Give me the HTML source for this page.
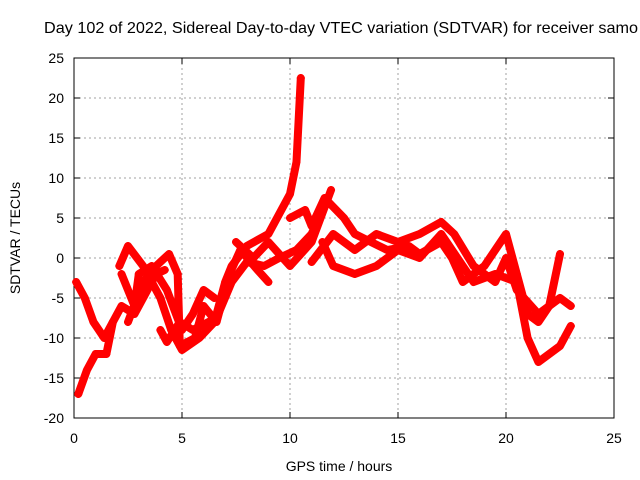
<!DOCTYPE html>
<html><head><meta charset="utf-8"><style>
body{margin:0;background:#fff}
svg{display:block;font-family:"Liberation Sans",sans-serif}
</style></head><body>
<svg id="chart" width="640" height="480">
<text x="44" y="33" font-size="16" textLength="594" lengthAdjust="spacingAndGlyphs" fill="#000">Day 102 of 2022, Sidereal Day-to-day VTEC variation (SDTVAR) for receiver samo</text>
<g id="grid"></g><g id="axes"></g><g id="series"></g>
<text x="339" y="471" font-size="14" text-anchor="middle">GPS time / hours</text>
<text x="0" y="0" font-size="14" text-anchor="middle" transform="translate(20,238) rotate(-90)">SDTVAR / TECUs</text>
</svg>
<script>
const xTicks=[0,5,10,15,20,25];
const yTicks=[-20,-15,-10,-5,0,5,10,15,20,25];
const trA=[[0.2,-17],[0.6,-14],[1,-12],[1.5,-12],[1.8,-8],[2.2,-6],[2.8,-7],[3.2,-5],[3.8,-2],[4.2,-1.5]];
const trB=[[0.1,-3],[0.5,-5],[0.9,-8],[1.4,-10],[1.8,-8]];
const trC=[[2.1,-1],[2.5,1.5],[3.2,-1],[4,-5],[4.5,-9],[5,-11.5],[5.8,-10],[6.5,-8],[7,-3],[7.3,-1],[8,1.5],[9,3],[10,8],[10.3,12],[10.5,22.5]];
const trD=[[2.2,-2],[2.8,-6],[3,-2],[3.6,-1],[4.3,-4],[5,-9],[5.5,-7],[6,-4],[6.5,-5]];
const trE=[[2.5,-8],[3.2,-3],[3.8,-1],[4.4,0.5],[4.8,-2],[4.9,-11],[5.6,-10],[6,-6],[6.6,-8],[7.2,-2],[7.7,1],[8.5,-1.5],[9,-3]];
const trF=[[4,-9],[4.3,-10.5],[4.9,-8],[5.5,-9],[6.6,-7.5],[7.3,-3],[8,-0.5],[8.8,-1],[9.5,0],[10.3,1],[11,3],[11.5,6]];
const trG=[[7.5,2],[8.3,0],[9,2],[10,-1],[11,2],[11.9,8.5]];
const trH=[[10,5],[10.7,6],[11,4],[11.6,7.5],[12.5,5],[13,3],[14.5,1],[15.5,1.5],[16,0.5],[17,2],[17.5,0],[18,-3],[19,-1],[20,3],[20.5,-2],[21,-7],[21.5,-8],[22,-6],[22.5,0.5]];
const trI=[[11.5,2],[12,-1],[13,-2],[14,-1],[15,1],[16,0],[17,3],[17.5,1],[18.5,-3],[19.5,-2],[20.5,-3],[21,-10],[21.5,-13],[22.5,-11],[23,-8.5]];
const trJ=[[11,-0.5],[12,3],[13,1],[14,3],[15,2],[16,3],[17,4.5],[17.6,3],[18.5,-1],[19.5,-3],[20,0],[20.5,-4],[21.5,-7],[22.5,-5],[23,-6]];
const series=[trA,trB,trC,trD,trE,trF,trG,trH,trI,trJ];
const L=74,R=614,T=58,B=418;
const sx=t=>L+(t-0)/25*(R-L);
const sy=v=>B-(v+20)/45*(B-T);
const NS="http://www.w3.org/2000/svg";
function mk(tag,parent,attrs){const e=document.createElementNS(NS,tag);for(const k in attrs)e.setAttribute(k,attrs[k]);parent.appendChild(e);return e;}
const grid=document.getElementById('grid'),axes=document.getElementById('axes'),sg=document.getElementById('series');
xTicks.forEach(t=>{const x=sx(t);
 if(t>0&&t<25){const g=mk('line',grid,{x1:x,x2:x,y1:T,y2:B,stroke:'#a0a0a0','stroke-dasharray':'2,3'});
 
 }
 mk('line',axes,{x1:x,x2:x,y1:B,y2:B-6,stroke:'#000'});mk('line',axes,{x1:x,x2:x,y1:T,y2:T+6,stroke:'#000'});
 const tx=mk('text',axes,{x:x,y:B+25,'font-size':14,'text-anchor':'middle'});tx.textContent=t;
 
 });
yTicks.forEach(v=>{const y=sy(v);
 if(v>-20&&v<25){const g=mk('line',grid,{x1:L,x2:R,y1:y,y2:y,stroke:'#a0a0a0','stroke-dasharray':'2,3'});
 
 }
 mk('line',axes,{x1:L,x2:L+6,y1:y,y2:y,stroke:'#000'});mk('line',axes,{x1:R,x2:R-6,y1:y,y2:y,stroke:'#000'});
 const tx=mk('text',axes,{x:L-10,y:y+5,'font-size':14,'text-anchor':'end'});tx.textContent=v;
 
 });
const fr=mk('rect',axes,{x:L,y:T,width:R-L,height:B-T,fill:'none',stroke:'#000'});


series.forEach((s,i)=>{
 const pl=mk('polyline',sg,{points:s.map(p=>sx(p[0])+','+sy(p[1])).join(' '),fill:'none',stroke:'#ff0000','stroke-width':8,'stroke-linejoin':'round','stroke-linecap':'round'});
 
 
 s.forEach(p=>{const x=sx(p[0]),y=sy(p[1]);
  const m=mk('path',sg,{d:`M${x-4},${y}H${x+4}M${x},${y-4}V${y+4}`,stroke:'#ff0000','stroke-width':1.5});
  
  });
});
</script>
</body></html>
